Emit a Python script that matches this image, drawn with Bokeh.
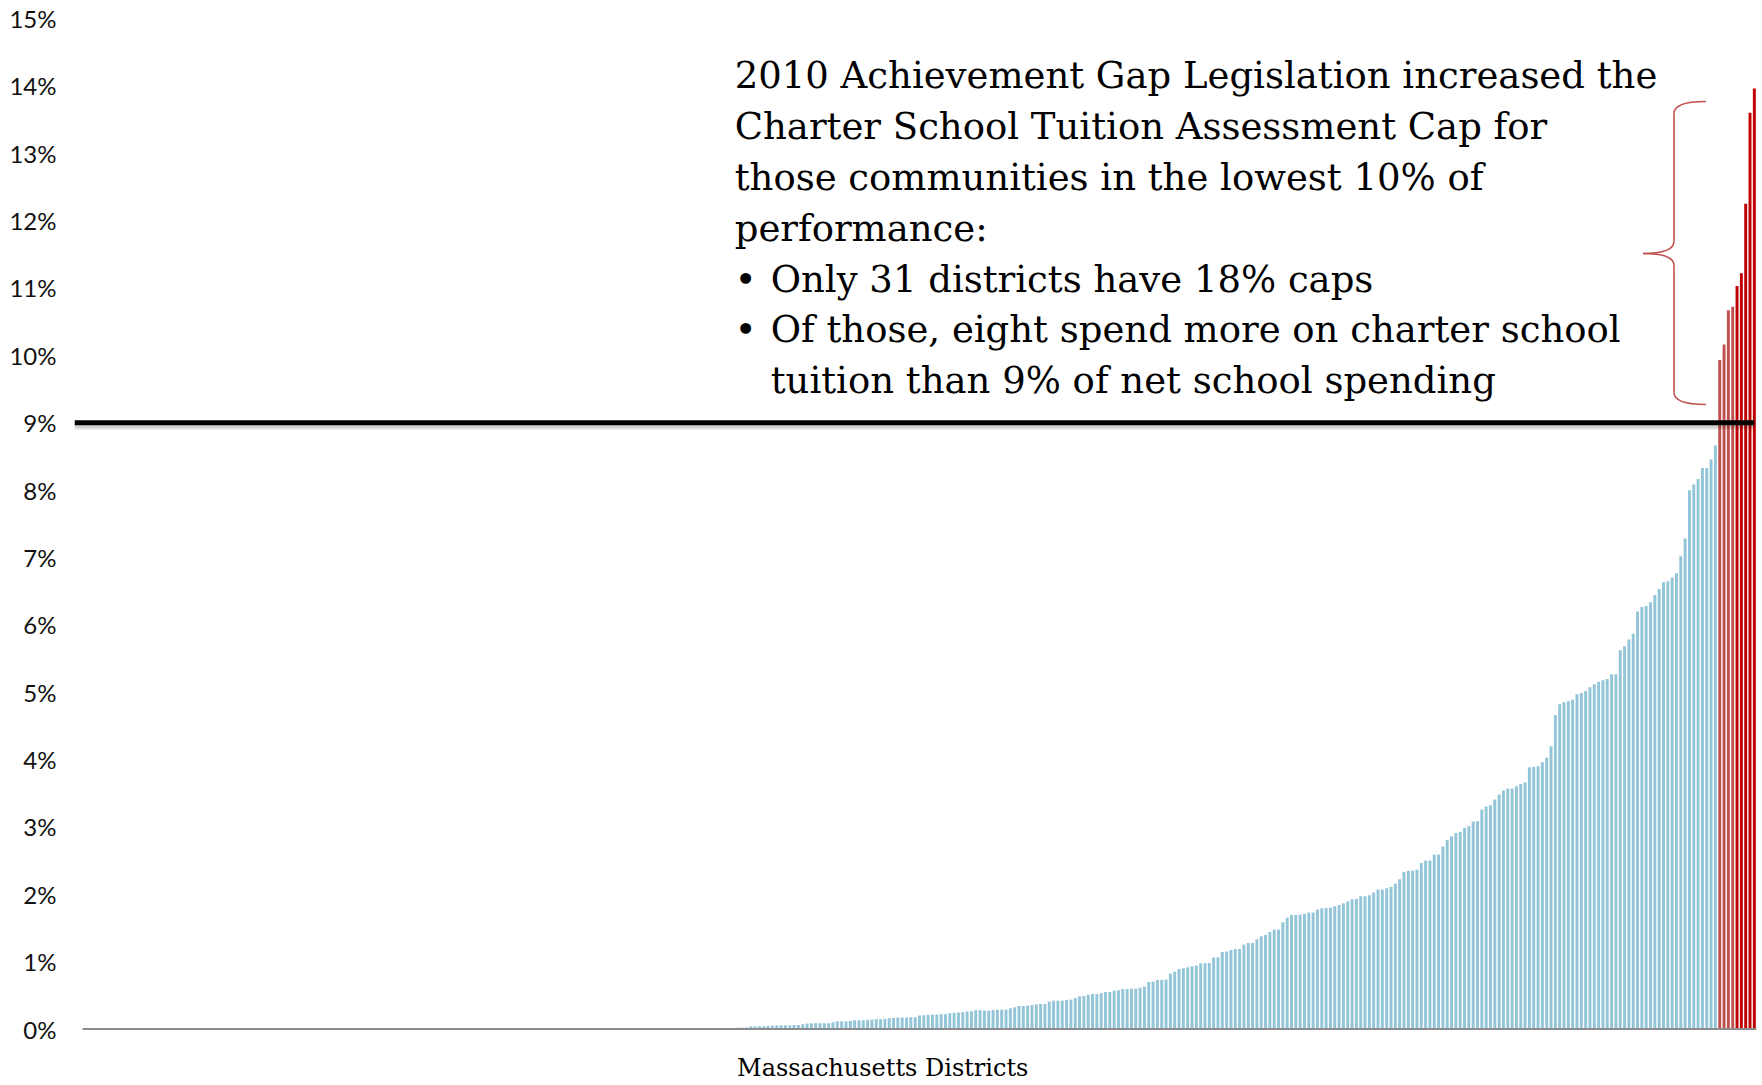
from bokeh.plotting import figure
from bokeh.models import ColumnDataSource, FixedTicker, PrintfTickFormatter, Range1d
from bokeh.embed import file_html
from bokeh.resources import INLINE
from bokeh.core.properties import value

# ---------------- data ----------------
zero_district_count = 146  # districts with no charter tuition

low_values = [0.005, 0.005, 0.008, 0.008, 0.01, 0.02, 0.02, 0.025, 0.04, 0.04,
              0.04, 0.04, 0.045, 0.05, 0.055, 0.055, 0.055, 0.055, 0.06, 0.06,
              0.07, 0.08, 0.085, 0.085, 0.085, 0.085, 0.085, 0.10, 0.114, 0.114,
              0.114, 0.12, 0.13, 0.13, 0.13, 0.135, 0.14, 0.145, 0.145, 0.15,
              0.16, 0.165, 0.17, 0.17, 0.17, 0.175, 0.175, 0.20, 0.205, 0.21,
              0.213, 0.213, 0.22, 0.22, 0.235, 0.24, 0.245, 0.25, 0.26, 0.265,
              0.28, 0.28]

mid_values = [0.272, 0.272, 0.282, 0.287, 0.287, 0.287, 0.307, 0.322, 0.342, 0.342,
              0.347, 0.356, 0.366, 0.371, 0.371, 0.406, 0.421, 0.421, 0.421, 0.431,
              0.436, 0.460, 0.485, 0.490, 0.510, 0.520, 0.520, 0.535, 0.550, 0.550,
              0.569, 0.574, 0.594, 0.594, 0.599, 0.599, 0.614, 0.629, 0.698, 0.703,
              0.728, 0.728, 0.733, 0.822, 0.851, 0.891, 0.901, 0.916, 0.931, 0.941,
              0.975, 0.978, 0.980, 1.06, 1.064, 1.144, 1.149, 1.173, 1.188, 1.188,
              1.252, 1.277]

upper_values = [1.277, 1.332, 1.376, 1.396, 1.441, 1.475, 1.475, 1.584, 1.653, 1.693,
                1.693, 1.698, 1.708, 1.728, 1.728, 1.772, 1.792, 1.797, 1.802, 1.822,
                1.842, 1.866, 1.896, 1.926, 1.931, 1.970, 1.970, 1.985, 2.025, 2.069,
                2.069, 2.089, 2.109, 2.158, 2.223, 2.332, 2.347, 2.351, 2.366, 2.465,
                2.500, 2.500, 2.589, 2.589, 2.708, 2.807, 2.861, 2.911, 2.926, 2.985,
                3.010, 3.079, 3.084, 3.257, 3.302, 3.322, 3.406, 3.480, 3.540, 3.569,
                3.569, 3.604]

high_values = [3.636, 3.661, 3.884, 3.894, 3.899, 3.958, 4.028, 4.196,
               4.661, 4.820, 4.849, 4.864, 4.889, 4.968, 4.988, 5.017, 5.072, 5.117,
               5.156, 5.176, 5.195, 5.265, 5.265, 5.622, 5.681, 5.780, 5.869, 6.196,
               6.265, 6.280, 6.334, 6.443, 6.532, 6.632, 6.646, 6.701, 6.765, 7.018,
               7.280, 7.998, 8.082, 8.166, 8.329, 8.329, 8.453, 8.662]

over_cap_light = [9.93, 10.16, 10.67, 10.72]
over_cap_dark = [11.03, 11.22, 12.25, 13.60, 13.96]

cap_level = 9
y_ticks = list(range(0, 16))

annotation_lines = [
    "2010 Achievement Gap Legislation increased the",
    "Charter School  Tuition Assessment Cap  for",
    "those communities in the lowest 10%  of",
    "performance:",
]
bullet_lines = [
    "Only 31 districts have 18% caps",
    "Of those, eight spend more on charter school",
    "tuition than 9% of net school spending",
]
bullet_marks = ["\u2022", "\u2022", ""]
x_title = "Massachusetts Districts"

# ---------------- build ----------------
blue_values = low_values + mid_values + upper_values + high_values
values = [0.0] * zero_district_count + blue_values + over_cap_light + over_cap_dark
N = len(values)

BLUE = "#93c5d9"
LIGHT_RED = "#c0504d"
DARK_RED = "#c00000"
colors = ([BLUE] * (zero_district_count + len(blue_values))
          + [LIGHT_RED] * len(over_cap_light) + [DARK_RED] * len(over_cap_dark))

src = ColumnDataSource(dict(x=list(range(N)), top=values, color=colors))

# ---------------- layout (pixels) ----------------
W, H = 1762, 1085
frame_left, frame_right = 74, 1755.5
frame_top = 18          # pixel row of the 15% tick
zero_px = 1028.5        # pixel row of the 0% baseline
axis_start_px = 82

y_top = 15
px_per_pct = (zero_px - frame_top) / y_top
y_bottom = -(H - zero_px) / px_per_pct   # frame reaches canvas bottom (room for title)
x_end = N - 0.5
px_per_idx = (frame_right - axis_start_px) / (x_end - (-0.5))
x_start = -0.5 - (axis_start_px - frame_left) / px_per_idx


def dx(px):
    return x_start + (px - frame_left) / px_per_idx


def dy(py):
    return (zero_px - py) / px_per_pct


p = figure(width=W, height=H, output_backend="svg", toolbar_location=None,
           x_range=Range1d(x_start, x_end), y_range=Range1d(y_bottom, y_top),
           min_border_left=frame_left, min_border_right=int(round(W - frame_right)),
           min_border_top=frame_top, min_border_bottom=0)
p.outline_line_color = None
p.xgrid.visible = False
p.ygrid.visible = False
p.xaxis.visible = False
p.background_fill_color = "white"
p.border_fill_color = "white"

yax = p.yaxis[0]
yax.ticker = FixedTicker(ticks=y_ticks)
yax.formatter = PrintfTickFormatter(format="%d%%")
yax.axis_line_color = None
yax.major_tick_line_color = None
yax.minor_tick_line_color = None
yax.major_tick_out = 0
yax.major_tick_in = 0
yax.major_label_standoff = 18
yax.major_label_text_font = "Lato"
yax.major_label_text_font_size = "24px"
yax.major_label_text_color = "#111111"

# bars
p.vbar(x="x", top="top", width=0.68, fill_color="color", line_color=None, source=src)

# baseline
p.segment(x0=[-0.5], y0=[0], x1=[x_end], y1=[0], line_color="#8c8c8c", line_width=2)

# 9% cap line with soft shadow
sh = 3 / px_per_pct
p.segment(x0=[x_start], y0=[cap_level - sh], x1=[N - 1], y1=[cap_level - sh],
          line_color="black", line_alpha=0.08, line_width=8)
p.segment(x0=[x_start], y0=[cap_level - sh], x1=[N - 1], y1=[cap_level - sh],
          line_color="black", line_alpha=0.10, line_width=5)
p.segment(x0=[x_start], y0=[cap_level], x1=[N - 1], y1=[cap_level],
          line_color="black", line_width=5)

# curly brace
bx_tip, bx_v, bx_mid = dx(1705), dx(1673), dx(1642)
by_top, by_mid, by_bot = dy(101), dy(253), dy(404)
ry = 12 / px_per_pct
p.quadratic(x0=[bx_tip, bx_v, bx_mid, bx_v],
            y0=[by_top, by_mid + ry, by_mid, by_bot + ry],
            x1=[bx_v, bx_mid, bx_v, bx_tip],
            y1=[by_top - ry, by_mid, by_mid - ry, by_bot],
            cx=[bx_v, bx_v, bx_v, bx_v],
            cy=[by_top, by_mid, by_mid, by_bot],
            line_color=LIGHT_RED, line_width=1.6)
p.segment(x0=[bx_v, bx_v], y0=[by_top - ry, by_mid - ry],
          x1=[bx_v, bx_v], y1=[by_mid + ry, by_bot + ry],
          line_color=LIGHT_RED, line_width=1.6)

# annotation text
FONT = "DejaVu Serif"
FS = "37px"
baselines = [75, 126, 177, 228, 279, 329, 380]
n_head = len(annotation_lines)
p.text(x=[dx(734)] * n_head, y=[dy(b) for b in baselines[:n_head]],
       text=annotation_lines, text_font=value(FONT), text_font_size=FS,
       text_baseline="alphabetic", text_color="black")
p.text(x=[dx(770)] * len(bullet_lines), y=[dy(b) for b in baselines[n_head:]],
       text=bullet_lines, text_font=value(FONT), text_font_size=FS,
       text_baseline="alphabetic", text_color="black")
p.text(x=[dx(734)] * len(bullet_marks), y=[dy(b) for b in baselines[n_head:]],
       text=bullet_marks, text_font=value(FONT), text_font_size=FS,
       text_baseline="alphabetic", text_color="black")

# x title
p.text(x=[dx(882)], y=[dy(1067)], text=[x_title], text_align="center",
       text_baseline="middle", text_font=value(FONT), text_font_size="24px",
       text_color="black")

open("out.html", "w").write(file_html(p, INLINE))
